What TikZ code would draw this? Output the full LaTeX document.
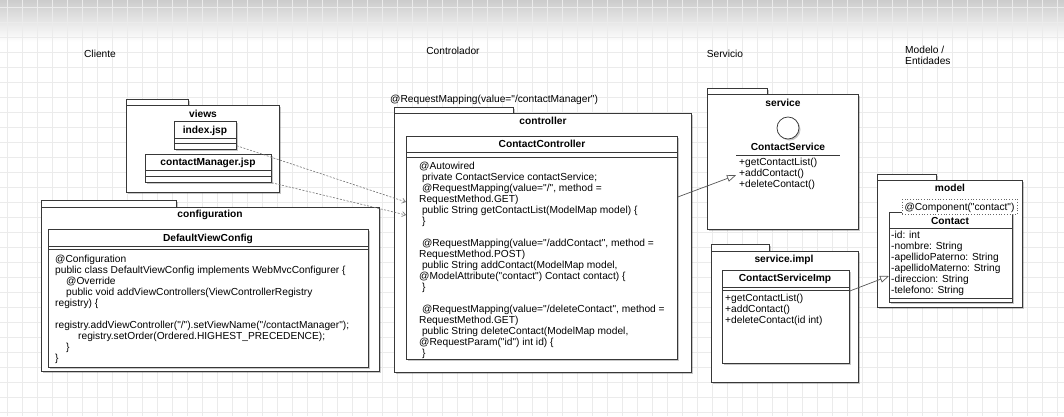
\documentclass[tikz,border=0pt]{standalone}
\usepackage{fontspec}
\setmainfont{Liberation Sans}[Ligatures=TeXOff]
\usetikzlibrary{arrows.meta,calc,shadows}
\begin{document}
\begin{tikzpicture}[x=1pt,y=-1pt,
  ln/.style={draw=black!78, line width=0.75pt},
  box/.style={ln, fill=white, rectangle, inner sep=0pt, anchor=north west,
    drop shadow={shadow xshift=1.5pt, shadow yshift=-1.5pt, opacity=0.22, fill=black}},
  plainbox/.style={ln, fill=white, rectangle, inner sep=0pt, anchor=north west},
  sz/.style 2 args={minimum width=#1pt, minimum height=#2pt},
  lbl/.style={font=\fontsize{10.2}{11}\selectfont\bfseries, inner sep=0pt, text height=7.5pt, text depth=0.3pt},
  head/.style={font=\fontsize{10.2}{11}\selectfont, inner sep=0pt, text height=7.5pt, text depth=0.3pt},
  code/.style={font=\fontsize{10.2}{11}\selectfont, inner sep=0pt, anchor=north west, align=left},
  dep/.style={draw=black!55, line width=0.6pt, dash pattern=on 2pt off 1.5pt, -{Straight Barb[length=3.5pt,width=5pt]}},
  real/.style={draw=black!65, line width=0.7pt, -{Triangle[open,length=9pt,width=7pt,fill=white]}},
  gridline/.style={draw=black!8, line width=0.5pt},
]
\useasboundingbox (0,0) rectangle (1064,416);
\fill[white] (0,0) rectangle (1064,416);
\shade[top color=black!20, bottom color=white] (0,0) rectangle (1064,42);
\foreach \k in {0,...,70} {\draw[gridline] (7+15*\k,0) -- (7+15*\k,416);}
\foreach \k in {0,...,27} {\draw[gridline] (0,7+15*\k) -- (1064,7+15*\k);}

% column headings
\node[head] (hcli) at (100,54) {Cliente};
\node[head] (hctl) at (453,51) {Controlador};
\node[head] (hsrv) at (725,54) {Servicio};
\node[code, anchor=north west] (hmod) at (905,45.5) {Modelo /\\Entidades};

% views package
\node[box, sz={62}{6}] (viewstab) at (126,99) {};
\node[box, sz={153}{87}] (views) at (126,105) {};
\node[lbl] (viewsl) at (203,114) {views};
\node[box, sz={62}{28}] (idx) at (174,121) {};
\draw[ln] (idx.west |- 0,138) -- (idx.east |- 0,138);
\draw[ln] (idx.west |- 0,143) -- (idx.east |- 0,143);
\node[lbl] (idxl) at (205,129.5) {index.jsp};
\node[box, sz={126}{28}] (cm) at (145,154) {};
\draw[ln] (cm.west |- 0,170) -- (cm.east |- 0,170);
\draw[ln] (cm.west |- 0,176) -- (cm.east |- 0,176);
\node[lbl] (cml) at (208,162) {contactManager.jsp};

% configuration package
\node[box, sz={135}{7}] (conftab) at (41,200) {};
\node[box, sz={338}{164}] (conf) at (41,207) {};
\node[lbl] (confl) at (210,214) {configuration};
\node[box, sz={320}{138}] (dvc) at (48,229) {};
\draw[ln] (dvc.west |- 0,246) -- (dvc.east |- 0,246);
\draw[ln] (dvc.west |- 0,249) -- (dvc.east |- 0,249);
\node[lbl] (dvcl) at (208,237.5) {DefaultViewConfig};
\node[code] (dvccode) at (55,254.9) {\strut @Configuration\\
public class DefaultViewConfig implements WebMvcConfigurer \{\\
\hspace*{11pt}@Override\\
\hspace*{11pt}public void addViewControllers(ViewControllerRegistry\\
registry) \{\\
\mbox{}\\
registry.addViewController("/").setViewName("/contactManager");\\
\hspace*{23pt}registry.setOrder(Ordered.HIGHEST\_PRECEDENCE);\\
\hspace*{11pt}\}\\
\}};

% controller package
\node[head, anchor=west] (rmap) at (390,99) {@RequestMapping(value="/contactManager")};
\node[box, sz={119}{6}] (ctltab) at (394,107) {};
\node[box, sz={297}{259}] (ctl) at (394,113) {};
\node[lbl] (ctll) at (543,121) {controller};
\node[box, sz={271}{223}] (cc) at (406,136) {};
\draw[ln] (cc.west |- 0,152) -- (cc.east |- 0,152);
\draw[ln] (cc.west |- 0,157) -- (cc.east |- 0,157);
\node[lbl] (ccl) at (542,144) {ContactController};
\node[code] (cccode) at (419,161.9) {\strut @Autowired\\
\hspace*{2.8pt}private ContactService contactService;\\
\hspace*{2.8pt}@RequestMapping(value="/", method =\\
RequestMethod.GET)\\
\hspace*{2.8pt}public String getContactList(ModelMap model) \{\\
\hspace*{2.8pt}\}\\
\mbox{}\\
\hspace*{2.8pt}@RequestMapping(value="/addContact", method =\\
RequestMethod.POST)\\
\hspace*{2.8pt}public String addContact(ModelMap model,\\
@ModelAttribute("contact") Contact contact) \{\\
\hspace*{2.8pt}\}\\
\mbox{}\\
\hspace*{2.8pt}@RequestMapping(value="/deleteContact", method =\\
RequestMethod.GET)\\
\hspace*{2.8pt}public String deleteContact(ModelMap model,\\
@RequestParam("id") int id) \{\\
\hspace*{2.8pt}\}};

% service package
\node[box, sz={60}{6}] (srvtab) at (707,88) {};
\node[box, sz={151}{135}] (srv) at (707,94) {};
\node[lbl] (srvl) at (783,103) {service};
\node[ln, circle, fill=white, minimum size=22pt, inner sep=0pt,
  drop shadow={shadow xshift=1.5pt, shadow yshift=-1.5pt, opacity=0.22, fill=black}] (iface) at (788,128) {};
\node[lbl] (csl) at (788,147) {ContactService};
\node[rectangle, inner sep=0pt, anchor=north west, sz={104}{40}] (csclass) at (736,155) {};
\draw[ln] (csclass.north west) -- (csclass.north east);
\node[code] (csm) at (739,157.9) {\strut +getContactList()\\+addContact()\\+deleteContact()};

% service.impl package
\node[box, sz={58}{7}] (imptab) at (711,244) {};
\node[box, sz={147}{131}] (imp) at (711,251) {};
\node[lbl] (impl) at (784,259) {service.impl};
\node[box, sz={127}{93}] (csi) at (722,270) {};
\draw[ln] (csi.west |- 0,287) -- (csi.east |- 0,287);
\draw[ln] (csi.west |- 0,290) -- (csi.east |- 0,290);
\node[lbl] (csil) at (785,278) {ContactServiceImp};
\node[code] (csim) at (725,293.9) {\strut +getContactList()\\+addContact()\\+deleteContact(id int)};

% model package
\node[box, sz={59}{6}] (modtab) at (877,174) {};
\node[box, sz={145}{127}] (mod) at (877,180) {};
\node[lbl] (modl) at (950,188) {model};
\node[box, sz={123}{90}] (contact) at (889,212) {};
\draw[ln] (contact.west |- 0,228) -- (contact.east |- 0,228);
\draw[ln] (contact.west |- 0,298) -- (contact.east |- 0,298);
\node[plainbox, draw=black!60, dotted, line width=0.7pt, sz={115}{15}] (stereo) at (902,199) {};
\node[head] (stereol) at (959.5,206.5) {@Component("contact")};
\node[lbl] (contactl) at (950,221) {Contact};
\node[code] (attrs) at (891,230.9) {\strut -id: int\\-nombre: String\\-apellidoPaterno: String\\-apellidoMaterno: String\\-direccion: String\\-telefono: String};

% connectors
\draw[dep] ($(idx.south east)+(0,-4)$) -- ($(cc.north west)+(0,66)$);
\draw[dep] (cm.south east) -- ($(cc.north west)+(0,79)$);
\draw[real] ($(cc.north east)+(0,61)$) -- (csclass.west);
\draw[real] ($(csi.north east)+(0,21)$) -- ($(contact.north west)+(0,64)$);
\end{tikzpicture}
\end{document}
